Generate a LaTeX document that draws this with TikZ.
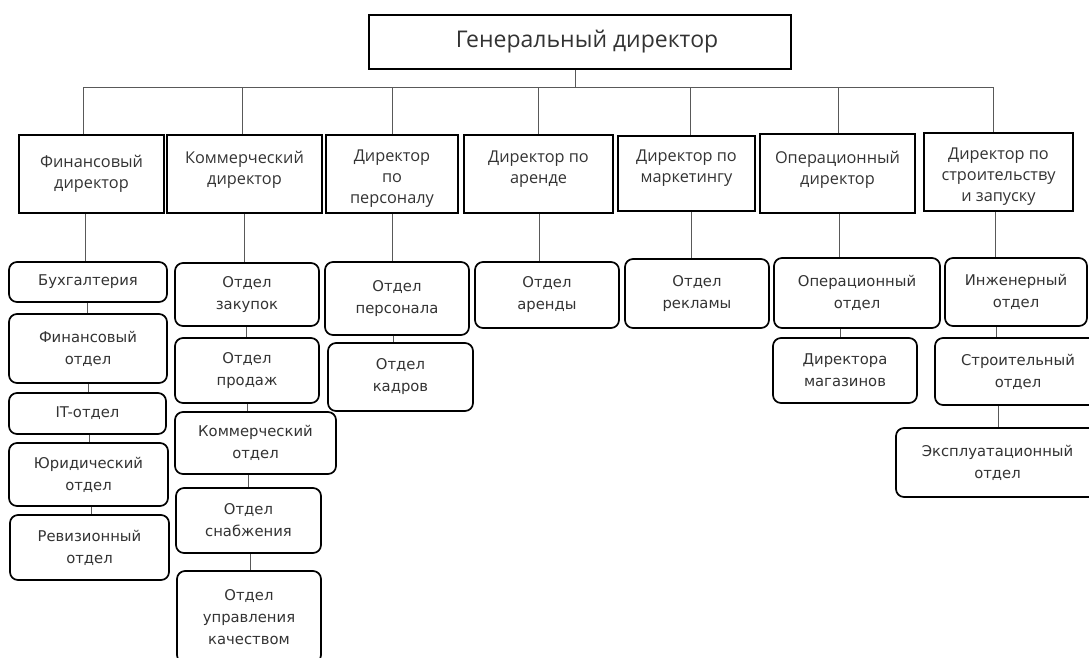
\documentclass[tikz,border=0pt]{standalone}
\usepackage{fontspec}
\setmainfont{Open Sans}
\newfontfamily\lowfont{DejaVu Sans}
\begin{document}
\begin{tikzpicture}[x=1pt,y=-1pt,
  conn/.style={draw=black!65,line width=1pt},
  dirbox/.style={draw=black,line width=1.7pt,inner sep=0pt},
  dirtext/.style={anchor=north,inner sep=0pt,align=center,font=\fontsize{16.3}{21}\selectfont,text=black!80},
  lowbox/.style={draw=black,line width=1.7pt,rounded corners=8pt,inner sep=0pt,align=center,
     font=\lowfont\fontsize{14.8}{22}\selectfont,text=black!80}
]
\useasboundingbox (0,0) rectangle (1089,657);
\clip (0,0) rectangle (1089,657);
% top
\node[draw=black,line width=1.7pt,minimum width=422pt,minimum height=54pt,inner sep=0pt,
  font=\fontsize{23}{26}\selectfont,text=black!80] (gd) at (580,42) {\hspace*{14pt}Генеральный директор};
% directors
\node[dirbox,minimum width=145pt,minimum height=78pt,label={[dirtext,yshift=-21pt]north:Финансовый\\директор}] (d1) at (91.5,174) {};
\node[dirbox,minimum width=155pt,minimum height=78pt,label={[dirtext,yshift=-17pt]north:Коммерческий\\директор}] (d2) at (244.5,174) {};
\node[dirbox,minimum width=132pt,minimum height=78pt,label={[dirtext,yshift=-16pt]north:Директор\\по\\персоналу}] (d3) at (392,174) {};
\node[dirbox,minimum width=149pt,minimum height=78pt,label={[dirtext,yshift=-17pt]north:Директор по\\аренде}] (d4) at (538.5,174) {};
\node[dirbox,minimum width=137pt,minimum height=75pt,label={[dirtext,yshift=-15pt]north:Директор по\\маркетингу}] (d5) at (686.5,173.5) {};
\node[dirbox,minimum width=155pt,minimum height=79pt,label={[dirtext,yshift=-18pt]north:Операционный\\директор}] (d6) at (837.5,173.5) {};
\node[dirbox,minimum width=149pt,minimum height=78pt,label={[dirtext,yshift=-16pt]north:Директор по\\строительству\\и запуску}] (d7) at (998.5,172) {};
% bus
\coordinate (bt) at (575,87);
\coordinate (b1) at (83,87);
\coordinate (b2) at (242,87);
\coordinate (b3) at (392,87);
\coordinate (b4) at (538,87);
\coordinate (b5) at (690,87);
\coordinate (b6) at (838,87);
\coordinate (b7) at (993,87);
\draw[conn] (gd.south -| bt) -- (bt);
\draw[conn] (b1) -- (b7);
\foreach \i in {1,...,7} {\draw[conn] (b\i) -- (b\i |- d\i.north);}
% column 1
\node[lowbox,minimum width=158pt,minimum height=40pt] (l11) at (88,282) {Бухгалтерия};
\node[lowbox,minimum width=158pt,minimum height=69pt] (l12) at (88,348.5) {Финансовый\\отдел};
\node[lowbox,minimum width=157pt,minimum height=41pt] (l13) at (87.5,413.5) {IT-отдел};
\node[lowbox,minimum width=159pt,minimum height=63pt] (l14) at (88.5,474.5) {Юридический\\отдел};
\node[lowbox,minimum width=159pt,minimum height=65pt] (l15) at (89.5,547.5) {Ревизионный\\отдел};
% column 2
\node[lowbox,minimum width=144pt,minimum height=63pt] (l21) at (247,294.5) {Отдел\\закупок};
\node[lowbox,minimum width=144pt,minimum height=65pt] (l22) at (247,370.5) {Отдел\\продаж};
\node[lowbox,minimum width=161pt,minimum height=62pt] (l23) at (255.5,443) {Коммерческий\\отдел};
\node[lowbox,minimum width=145pt,minimum height=65pt] (l24) at (248.5,520.5) {Отдел\\снабжения};
\node[lowbox,minimum width=144pt,minimum height=92pt] (l25) at (249,617) {Отдел\\управления\\качеством};
% column 3
\node[lowbox,minimum width=144pt,minimum height=73pt] (l31) at (397,298.5) {Отдел\\персонала};
\node[lowbox,minimum width=145pt,minimum height=68pt] (l32) at (400.5,377) {Отдел\\кадров};
% column 4
\node[lowbox,minimum width=144pt,minimum height=66pt] (l41) at (547,295) {Отдел\\аренды};
% column 5
\node[lowbox,minimum width=144pt,minimum height=69pt] (l51) at (697,293.5) {Отдел\\рекламы};
% column 6
\node[lowbox,minimum width=166pt,minimum height=70pt] (l61) at (857,293) {Операционный\\отдел};
\node[lowbox,minimum width=144pt,minimum height=65pt] (l62) at (845,370.5) {Директора\\магазинов};
% column 7
\node[lowbox,minimum width=142pt,minimum height=68pt] (l71) at (1016,292) {Инженерный\\отдел};
\node[lowbox,minimum width=166pt,minimum height=67pt] (l72) at (1018,371.5) {Строительный\\отдел};
\node[lowbox,minimum width=203pt,minimum height=69pt] (l73) at (997.5,462.5) {Эксплуатационный\\отдел};
% connectors
\draw[conn] (d1.south -| 85,0) -- (l11.north -| 85,0);
\draw[conn] (l11.south -| 87,0) -- (l12.north -| 87,0);
\draw[conn] (l12.south -| 88,0) -- (l13.north -| 88,0);
\draw[conn] (l13.south -| 89,0) -- (l14.north -| 89,0);
\draw[conn] (l14.south -| 91,0) -- (l15.north -| 91,0);
\draw[conn] (d2.south -| 244,0) -- (l21.north -| 244,0);
\draw[conn] (l21.south -| 246,0) -- (l22.north -| 246,0);
\draw[conn] (l22.south -| 247,0) -- (l23.north -| 247,0);
\draw[conn] (l23.south -| 248,0) -- (l24.north -| 248,0);
\draw[conn] (l24.south -| 250,0) -- (l25.north -| 250,0);
\draw[conn] (d3.south -| 392,0) -- (l31.north -| 392,0);
\draw[conn] (l31.south -| 393,0) -- (l32.north -| 393,0);
\draw[conn] (d4.south -| 539,0) -- (l41.north -| 539,0);
\draw[conn] (d5.south -| 691,0) -- (l51.north -| 691,0);
\draw[conn] (d6.south -| 839,0) -- (l61.north -| 839,0);
\draw[conn] (l61.south -| 840,0) -- (l62.north -| 840,0);
\draw[conn] (d7.south -| 995,0) -- (l71.north -| 995,0);
\draw[conn] (l71.south -| 996,0) -- (l72.north -| 996,0);
\draw[conn] (l72.south -| 998,0) -- (l73.north -| 998,0);
\end{tikzpicture}
\end{document}
